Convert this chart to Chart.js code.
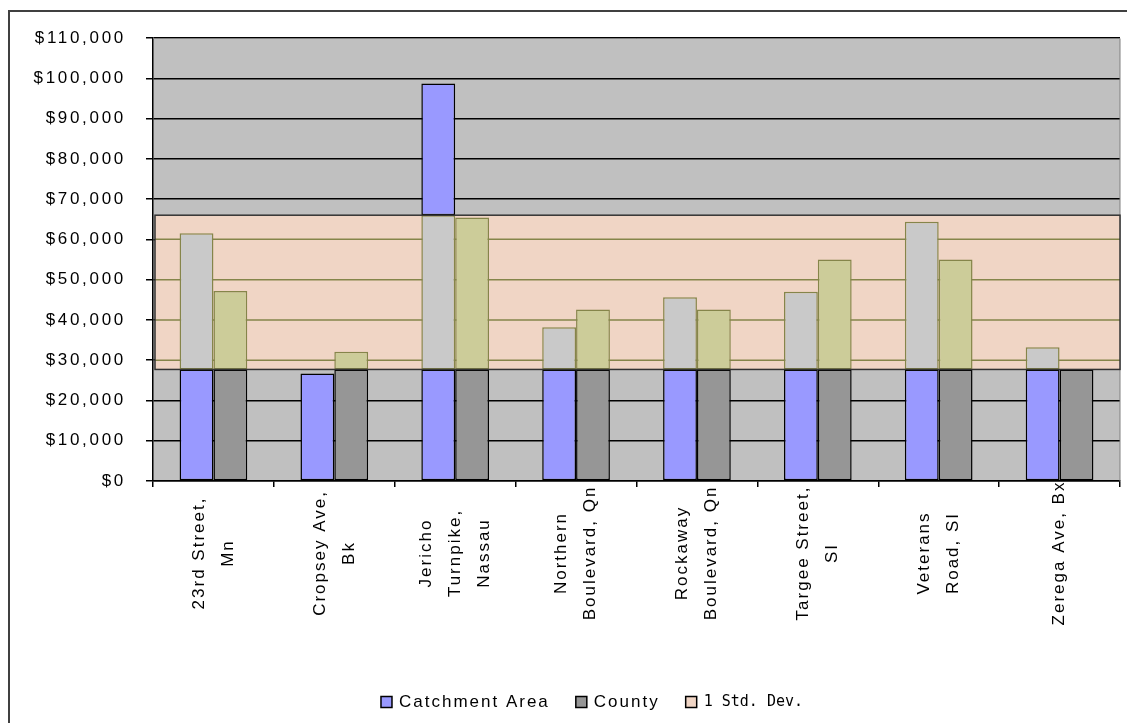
<!DOCTYPE html>
<html>
<head>
<meta charset="utf-8">
<script src="https://cdn.jsdelivr.net/npm/chart.js@4/dist/chart.umd.min.js"></script>
<style>
    html, body { margin: 0; padding: 0; background: #fff; }
    #wrap { width: 1127px; height: 723px; position: relative; }
</style>
</head>
<body>
<div id="wrap"><canvas id="chart"></canvas></div>
<script>
// ============= DATA =============
const categories = [
    ['23rd Street,', 'Mn'],
    ['Cropsey Ave,', 'Bk'],
    ['Jericho', 'Turnpike,', 'Nassau'],
    ['Northern', 'Boulevard, Qn'],
    ['Rockaway', 'Boulevard, Qn'],
    ['Targee Street,', 'SI'],
    ['Veterans', 'Road, SI'],
    ['Zerega Ave, Bx']
];
const catchmentArea = [61500, 26700, 98700, 38200, 45600, 47000, 64400, 33200];
const county = [47200, 32100, 65400, 42600, 42600, 55000, 55000, 27700];
const stdDevRange = [27700, 66000];
const yTickValues = [0, 10000, 20000, 30000, 40000, 50000, 60000, 70000, 80000, 90000, 100000, 110000];
const legendLabels = ['Catchment Area', 'County', '1 Std. Dev.'];

// ============= STYLE =============
const colors = {
    plot: '#c0c0c0',
    catchment: '#9999ff',
    county: '#969696',
    band: '#f0d5c5',
    catchmentInBand: '#c9c9c9',
    countyInBand: '#cccc99',
    bandLine: '#85854a',
    bandEdge: '#333333'
};
const FONT = '"Liberation Sans", Arial, sans-serif';

// split a series into the part below, inside and above the std. dev. band
function segments(values) {
    const [lo, hi] = stdDevRange;
    const keep = v => (v > 0 ? v : null);
    return {
        below: values.map(v => keep(Math.min(v, lo))),
        inside: values.map(v => keep(Math.min(v, hi) - lo)),
        above: values.map(v => keep(v - hi))
    };
}

function barSet(label, data, stack, fill, border) {
    return {
        label: label,
        data: data,
        stack: stack,
        backgroundColor: fill,
        borderColor: border,
        borderWidth: 1.5,
        borderSkipped: false,
        categoryPercentage: 0.56,
        barPercentage: 1.0
    };
}

const segC = segments(catchmentArea);
const segK = segments(county);

// ============= PLUGINS =============
const excelLook = {
    id: 'excelLook',
    beforeDraw(chart) {
        const { ctx, chartArea: a } = chart;
        ctx.letterSpacing = '2.7px';
        ctx.save();
        ctx.fillStyle = colors.plot;
        ctx.fillRect(a.left, a.top, a.right - a.left, a.bottom - a.top);
        ctx.restore();
    },
    beforeDatasetsDraw(chart) {
        const { ctx, chartArea: a, scales: { y } } = chart;
        const [lo, hi] = stdDevRange;
        const yTop = y.getPixelForValue(hi);
        const yBot = y.getPixelForValue(lo);
        ctx.save();
        // plot border top / right
        ctx.strokeStyle = '#808080';
        ctx.lineWidth = 1;
        ctx.beginPath();
        ctx.moveTo(a.left, Math.round(a.top) + 0.5);
        ctx.lineTo(a.right, Math.round(a.top) + 0.5);
        ctx.lineTo(a.right, a.bottom);
        ctx.stroke();
        // band fill
        ctx.fillStyle = colors.band;
        ctx.fillRect(a.left + 2, yTop, a.right - a.left - 2, yBot - yTop);
        // grid lines seen through the band
        ctx.strokeStyle = colors.bandLine;
        ctx.lineWidth = 1.5;
        yTickValues.filter(v => v > lo && v < hi).forEach(v => {
            const py = y.getPixelForValue(v);
            ctx.beginPath();
            ctx.moveTo(a.left + 2, py);
            ctx.lineTo(a.right, py);
            ctx.stroke();
        });
        ctx.restore();
    },
    afterDatasetsDraw(chart) {
        const { ctx, chartArea: a, scales: { y } } = chart;
        const yTop = y.getPixelForValue(stdDevRange[1]);
        const yBot = y.getPixelForValue(stdDevRange[0]);
        ctx.save();
        ctx.strokeStyle = colors.bandEdge;
        ctx.lineWidth = 1.5;
        ctx.strokeRect(a.left + 2, yTop, a.right - a.left - 2, yBot - yTop);
        ctx.restore();
    },
    afterDraw(chart) {
        const { ctx, scales: { x } } = chart;
        ctx.save();
        // outer frame
        ctx.strokeStyle = '#404040';
        ctx.lineWidth = 2;
        ctx.strokeRect(9, 11, 1300, 900);

        // rotated category labels, lines centred
        ctx.fillStyle = '#000';
        ctx.font = '17px ' + FONT;
        ctx.letterSpacing = '2px';
        ctx.textAlign = 'center';
        ctx.textBaseline = 'middle';
        const lineH = 29;
        categories.forEach((lines, i) => {
            const px = x.getPixelForValue(i);
            ctx.save();
            ctx.translate(px, 553);
            ctx.rotate(-Math.PI / 2);
            lines.forEach((txt, j) => {
                ctx.fillText(txt, 0, (j - (lines.length - 1) / 2) * lineH);
            });
            ctx.restore();
        });

        // legend
        const items = [
            { text: legendLabels[0], fill: colors.catchment, font: '17px ' + FONT, spacing: '2px' },
            { text: legendLabels[1], fill: colors.county, font: '17px ' + FONT, spacing: '2px' },
            { text: legendLabels[2], fill: colors.band, font: '15px "DejaVu Sans Mono", monospace', spacing: '0px' }
        ];
        const box = 11, boxGap = 7, itemGap = 26, ly = 702;
        ctx.textAlign = 'left';
        let total = 0;
        items.forEach(it => {
            ctx.font = it.font;
            ctx.letterSpacing = it.spacing;
            it.w = ctx.measureText(it.text).width;
            total += box + boxGap + it.w;
        });
        total += itemGap * (items.length - 1);
        let lx = 592 - total / 2;
        items.forEach(it => {
            ctx.fillStyle = it.fill;
            ctx.fillRect(lx, ly - box / 2, box, box);
            ctx.strokeStyle = '#000';
            ctx.lineWidth = 1.5;
            ctx.strokeRect(lx, ly - box / 2, box, box);
            ctx.fillStyle = '#000';
            ctx.font = it.font;
            ctx.letterSpacing = it.spacing;
            ctx.fillText(it.text, lx + box + boxGap, ly);
            lx += box + boxGap + it.w + itemGap;
        });
        ctx.restore();
    }
};

// ============= CHART =============
const chart = new Chart(document.getElementById('chart'), {
    type: 'bar',
    data: {
        labels: categories,
        datasets: [
            barSet('Catchment Area', segC.below, 'catchment', colors.catchment, '#000'),
            barSet('Catchment Area (band)', segC.inside, 'catchment', colors.catchmentInBand, colors.bandLine),
            barSet('Catchment Area (above)', segC.above, 'catchment', colors.catchment, '#000'),
            barSet('County', segK.below, 'county', colors.county, '#000'),
            barSet('County (band)', segK.inside, 'county', colors.countyInBand, colors.bandLine),
            barSet('County (above)', segK.above, 'county', colors.county, '#000')
        ]
    },
    options: {
        responsive: true,
        maintainAspectRatio: false,
        animation: false,
        layout: { padding: { top: 38, right: 7, left: 0, bottom: 0 } },
        plugins: {
            legend: { display: false },
            tooltip: { enabled: false }
        },
        scales: {
            x: {
                stacked: true,
                grid: { offset: true, drawOnChartArea: false, color: '#000', lineWidth: 1.5, tickLength: 6 },
                border: { color: '#000', width: 1.5 },
                ticks: { display: false },
                afterFit: s => { s.height = 242; }
            },
            y: {
                stacked: true,
                min: 0,
                max: 110000,
                afterBuildTicks: s => { s.ticks = yTickValues.map(v => ({ value: v })); },
                ticks: {
                    color: '#000',
                    padding: 20,
                    font: { family: FONT, size: 17 },
                    callback: v => '$' + v.toLocaleString('en-US')
                },
                grid: { color: '#000', lineWidth: 1.5, tickLength: 7 },
                border: { color: '#000', width: 1.5 },
                afterFit: s => { s.width = 153; }
            }
        }
    },
    plugins: [excelLook]
});
</script>
</body>
</html>
